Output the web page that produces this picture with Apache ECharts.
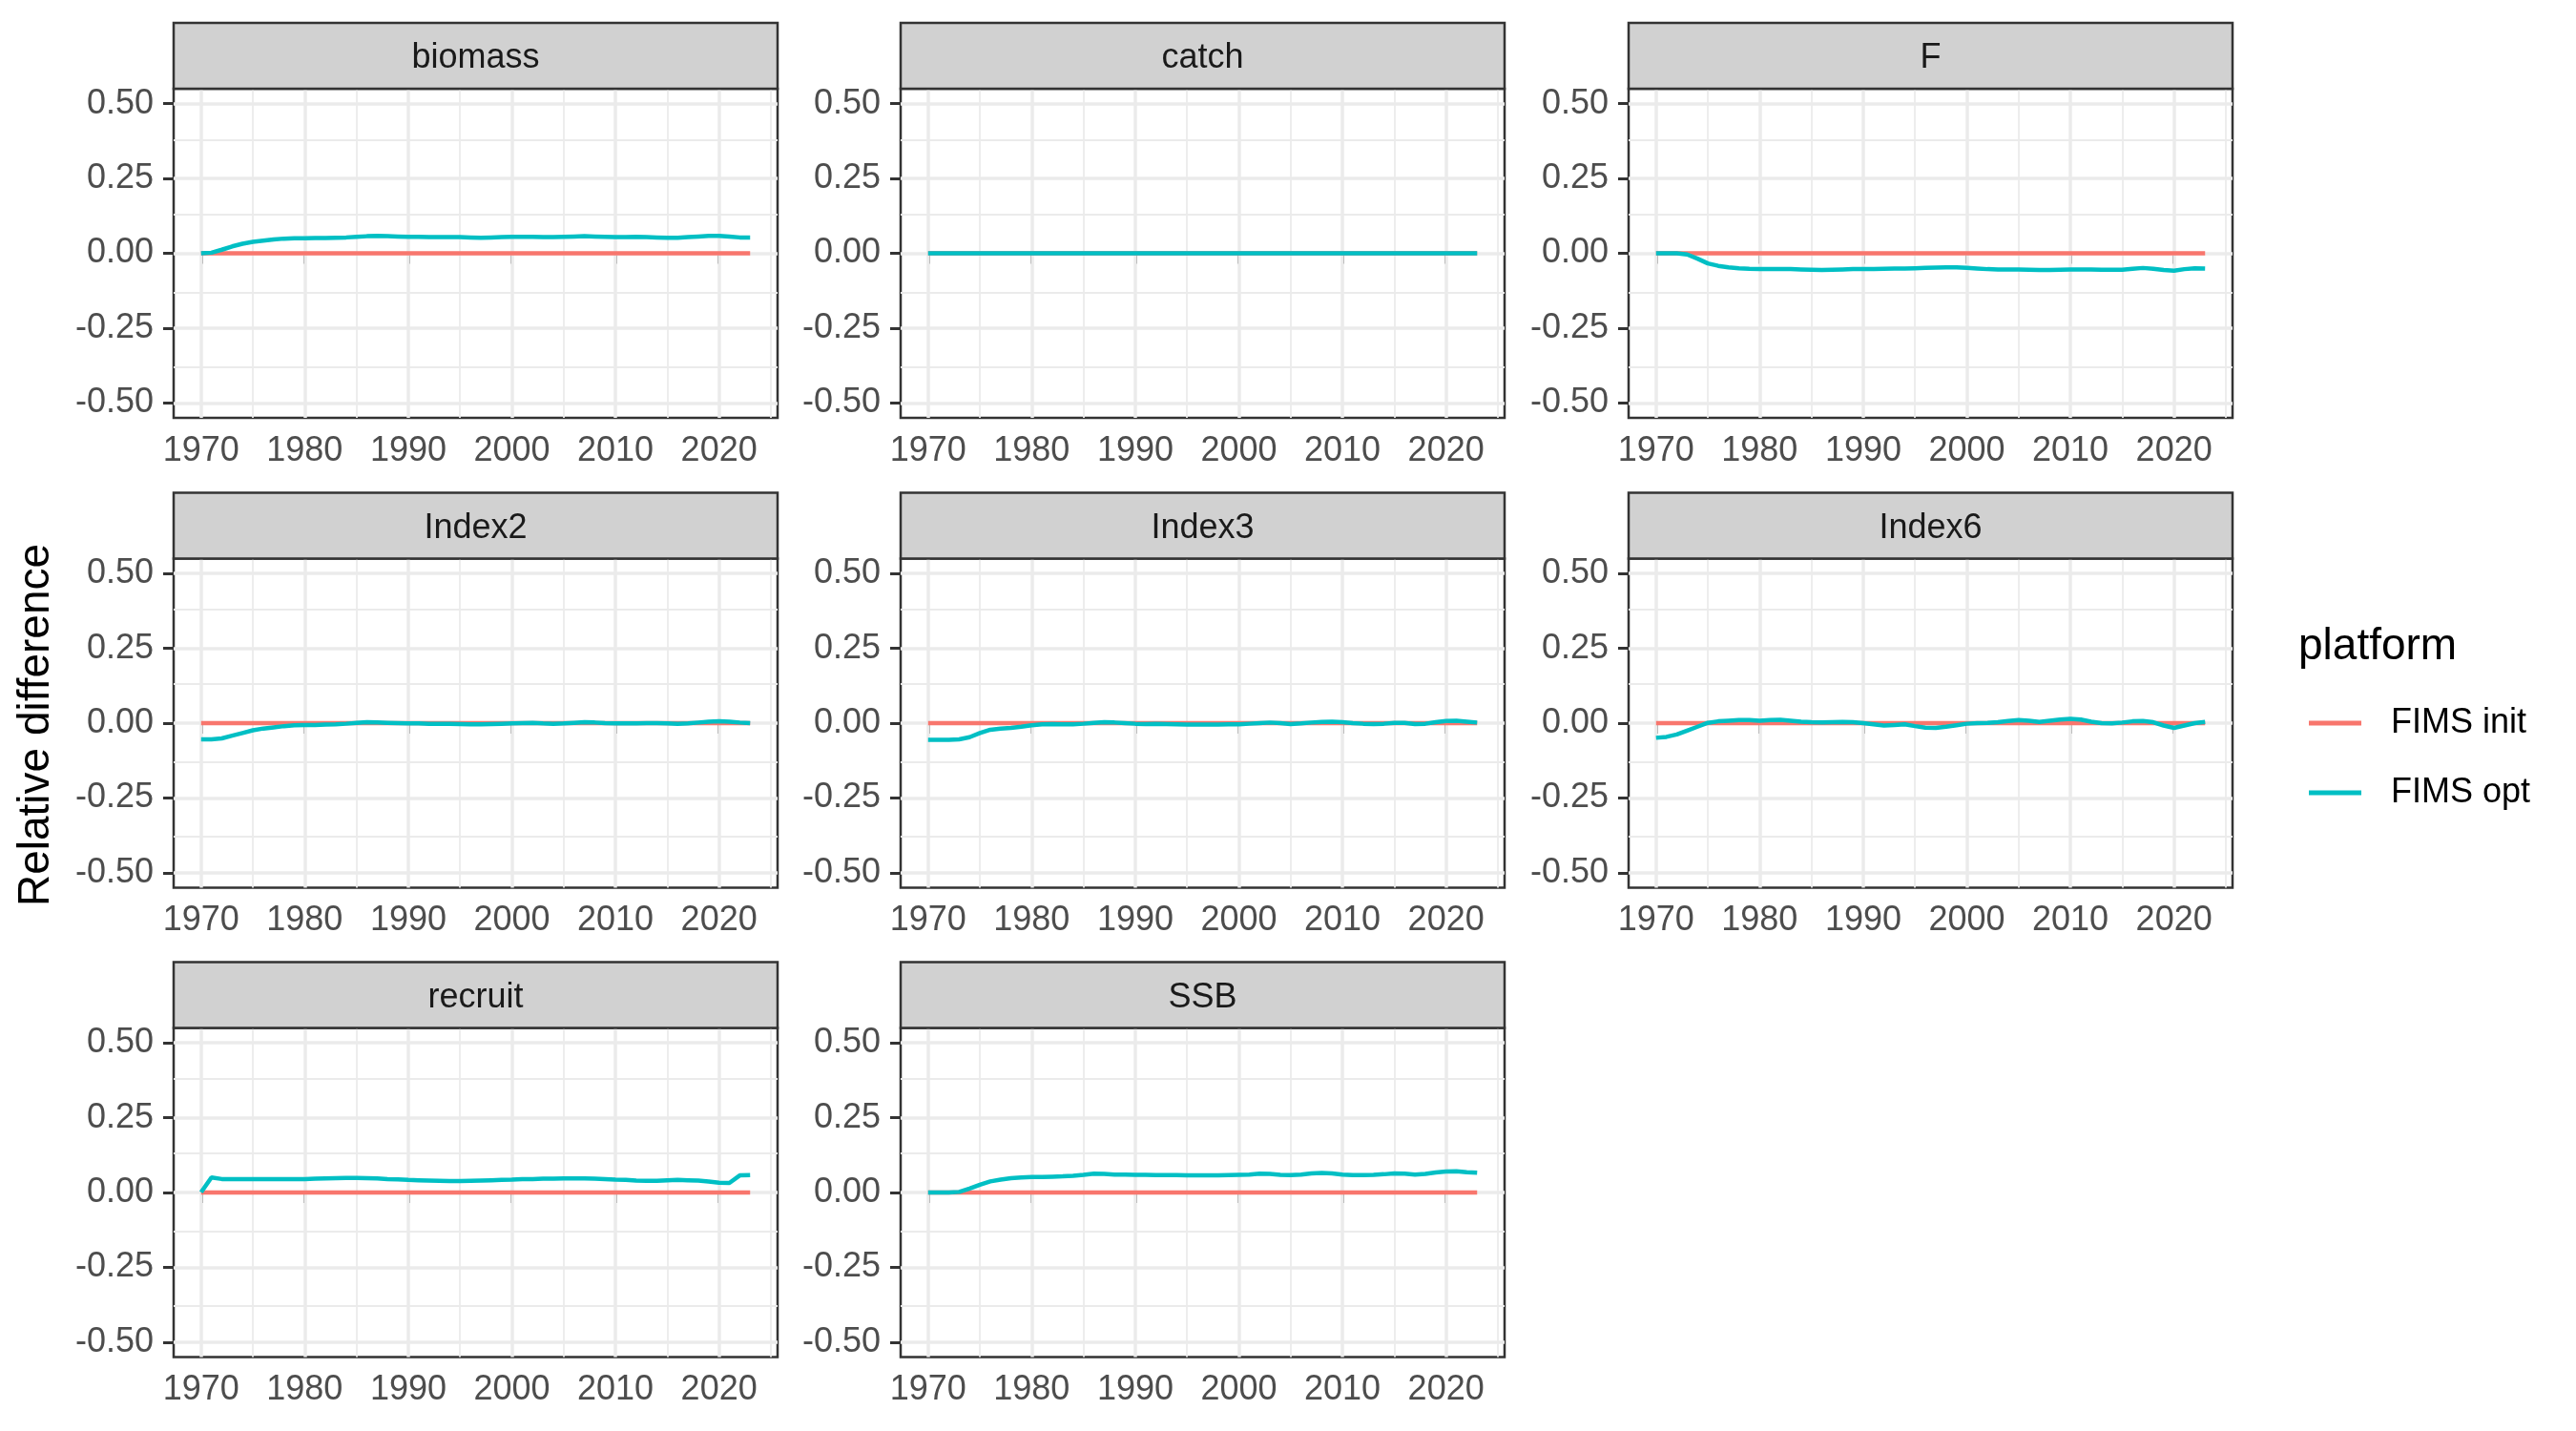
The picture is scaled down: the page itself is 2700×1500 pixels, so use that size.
<!DOCTYPE html>
<html>
<head>
<meta charset="utf-8">
<script src="https://cdn.jsdelivr.net/npm/echarts@6/dist/echarts.min.js"></script>
<style>
html,body{margin:0;padding:0;background:#fff;}
#chart{width:2700px;height:1500px;}
</style>
</head>
<body>
<div id="chart"></div>
<script>
// ---------------- data ----------------
const years = [1970,1971,1972,1973,1974,1975,1976,1977,1978,1979,
  1980,1981,1982,1983,1984,1985,1986,1987,1988,1989,
  1990,1991,1992,1993,1994,1995,1996,1997,1998,1999,
  2000,2001,2002,2003,2004,2005,2006,2007,2008,2009,
  2010,2011,2012,2013,2014,2015,2016,2017,2018,2019,
  2020,2021,2022,2023];

const panelNames = ['biomass','catch','F','Index2','Index3','Index6','recruit','SSB'];
const seriesNames = ['FIMS init','FIMS opt'];
const yTickValues = [-0.5,-0.25,0,0.25,0.5];
const yMinorValues = [-0.375,-0.125,0.125,0.375];
const xTickValues = [1970,1980,1990,2000,2010,2020];
const xMinorValues = [1975,1985,1995,2005,2015,2025];

// FIMS init: relative difference is zero in every panel
const fimsInit = [0,0,0,0,0,0,0,0,0,0, 0,0,0,0,0,0,0,0,0,0, 0,0,0,0,0,0,0,0,0,0,
  0,0,0,0,0,0,0,0,0,0, 0,0,0,0,0,0,0,0,0,0, 0,0,0,0];

const biomassOpt = [0,0.002,0.012,0.023,0.032,0.038,0.042,0.046,0.049,0.050,
  0.050,0.051,0.051,0.052,0.053,0.055,0.057,0.058,0.057,0.056,
  0.055,0.055,0.054,0.054,0.054,0.054,0.053,0.052,0.053,0.054,
  0.055,0.055,0.055,0.054,0.054,0.055,0.056,0.057,0.056,0.055,
  0.054,0.054,0.055,0.054,0.053,0.052,0.052,0.054,0.056,0.058,
  0.058,0.056,0.053,0.053];
const catchOpt = [0,0,0,0,0,0,0,0,0,0, 0,0,0,0,0,0,0,0,0,0, 0,0,0,0,0,0,0,0,0,0,
  0,0,0,0,0,0,0,0,0,0, 0,0,0,0,0,0,0,0,0,0, 0,0,0,0];
const fOpt = [0,0,0,-0.004,-0.018,-0.034,-0.042,-0.047,-0.050,-0.052,
  -0.053,-0.053,-0.053,-0.053,-0.054,-0.055,-0.056,-0.055,-0.054,-0.053,
  -0.053,-0.053,-0.052,-0.051,-0.051,-0.050,-0.049,-0.048,-0.047,-0.047,
  -0.049,-0.051,-0.053,-0.054,-0.054,-0.054,-0.055,-0.056,-0.056,-0.055,
  -0.054,-0.054,-0.054,-0.055,-0.055,-0.055,-0.052,-0.049,-0.052,-0.056,
  -0.058,-0.053,-0.050,-0.051];
const index2Opt = [-0.054,-0.054,-0.051,-0.042,-0.033,-0.024,-0.018,-0.014,-0.010,-0.007,
  -0.006,-0.006,-0.005,-0.004,-0.002,0.001,0.003,0.002,0.001,0.000,
  -0.001,-0.001,-0.002,-0.002,-0.002,-0.003,-0.004,-0.004,-0.003,-0.002,
  -0.001,0.000,0.001,-0.001,-0.002,-0.001,0.001,0.003,0.002,0.000,
  -0.001,-0.001,-0.001,0.000,0.000,-0.001,-0.002,-0.001,0.002,0.005,
  0.006,0.005,0.002,0.000];
const index3Opt = [-0.056,-0.056,-0.056,-0.054,-0.047,-0.033,-0.022,-0.018,-0.016,-0.012,
  -0.007,-0.004,-0.003,-0.004,-0.004,-0.002,0.001,0.003,0.002,0.000,
  -0.002,-0.003,-0.002,-0.003,-0.004,-0.005,-0.005,-0.005,-0.005,-0.004,
  -0.004,-0.002,0.000,0.002,0.000,-0.003,-0.001,0.002,0.004,0.005,
  0.003,0.000,-0.002,-0.003,-0.002,0.001,0.001,-0.003,-0.002,0.003,
  0.007,0.008,0.005,0.002];
const index6Opt = [-0.049,-0.046,-0.038,-0.025,-0.012,0.001,0.006,0.008,0.010,0.010,
  0.008,0.010,0.011,0.008,0.005,0.003,0.002,0.003,0.004,0.003,
  0.000,-0.004,-0.008,-0.006,-0.004,-0.010,-0.015,-0.016,-0.012,-0.007,
  -0.002,0.000,0.001,0.003,0.007,0.010,0.008,0.004,0.008,0.012,
  0.014,0.012,0.005,0.000,-0.001,0.002,0.006,0.007,0.003,-0.008,
  -0.016,-0.008,0.000,0.004];
const recruitOpt = [0.001,0.050,0.045,0.045,0.045,0.045,0.045,0.045,0.045,0.045,
  0.045,0.046,0.047,0.048,0.049,0.049,0.048,0.047,0.045,0.044,
  0.042,0.041,0.040,0.039,0.038,0.038,0.039,0.040,0.041,0.042,
  0.043,0.045,0.045,0.046,0.046,0.047,0.047,0.047,0.046,0.045,
  0.043,0.042,0.040,0.039,0.039,0.041,0.042,0.041,0.040,0.037,
  0.033,0.032,0.057,0.058];
const ssbOpt = [0,0,0,0.002,0.013,0.026,0.037,0.043,0.048,0.050,
  0.052,0.052,0.053,0.054,0.056,0.059,0.063,0.062,0.060,0.060,
  0.059,0.059,0.058,0.058,0.058,0.057,0.057,0.057,0.057,0.058,
  0.059,0.060,0.063,0.062,0.059,0.058,0.060,0.064,0.065,0.064,
  0.060,0.058,0.058,0.059,0.061,0.064,0.063,0.060,0.062,0.067,
  0.070,0.071,0.068,0.066];

const optByPanel = [biomassOpt, catchOpt, fOpt, index2Opt, index3Opt, index6Opt, recruitOpt, ssbOpt];

// ---------------- layout / style ----------------
const FONT = '"Liberation Sans", Arial, Helvetica, sans-serif';
const COLORS = ['#F8766D', '#00BFC4'];
const colLeft = [182, 944, 1707];
const rowTop = [93, 585.5, 1077.5];
const panelW = 633, panelH = 345, stripH = 69;

const grids = [], xAxes = [], yAxes = [], series = [], graphics = [];

function pairs(xs, ys) { return xs.map((x, i) => [x, ys[i]]); }

panelNames.forEach((name, i) => {
  const c = i % 3, r = Math.floor(i / 3);
  const left = colLeft[c], top = rowTop[r];
  grids.push({
    left: left, top: top, width: panelW, height: panelH,
    show: true, backgroundColor: '#ffffff', borderColor: '#333333', borderWidth: 2.5,
    containLabel: false
  });
  xAxes.push({
    type: 'value', gridIndex: i, min: 1967.35, max: 2025.65,
    axisLine: { show: false },
    axisTick: { show: true, customValues: xTickValues, length: 11, lineStyle: { color: '#333333', width: 3 } },
    axisLabel: { customValues: xTickValues, margin: 17, color: '#4D4D4D', fontSize: 36, fontFamily: FONT,
      formatter: v => String(v) },
    splitLine: { show: false }
  });
  yAxes.push({
    type: 'value', gridIndex: i, min: -0.55, max: 0.55,
    axisLine: { show: false },
    axisTick: { show: true, customValues: yTickValues, length: 11, lineStyle: { color: '#333333', width: 3 } },
    axisLabel: { customValues: yTickValues, margin: 21, color: '#4D4D4D', fontSize: 36, fontFamily: FONT,
      formatter: v => Number(v).toFixed(2) },
    splitLine: { show: false }
  });

  const gridLines = [];
  yTickValues.forEach(v => gridLines.push({ yAxis: v, lineStyle: { width: 3.5, color: '#EBEBEB', type: 'solid' } }));
  yMinorValues.forEach(v => gridLines.push({ yAxis: v, lineStyle: { width: 1.8, color: '#EBEBEB', type: 'solid' } }));
  xTickValues.forEach(v => gridLines.push({ xAxis: v, lineStyle: { width: 3.5, color: '#EBEBEB', type: 'solid' } }));
  xMinorValues.forEach(v => gridLines.push({ xAxis: v, lineStyle: { width: 1.8, color: '#EBEBEB', type: 'solid' } }));

  series.push({
    name: seriesNames[0], type: 'line', xAxisIndex: i, yAxisIndex: i,
    data: pairs(years, fimsInit), showSymbol: false, symbol: 'none', z: 3,
    lineStyle: { color: COLORS[0], width: 4.5 }, itemStyle: { color: COLORS[0] },
    markLine: { silent: true, symbol: ['none', 'none'], label: { show: false }, z: 1, animation: false,
      emphasis: { disabled: true }, data: gridLines }
  });
  series.push({
    name: seriesNames[1], type: 'line', xAxisIndex: i, yAxisIndex: i,
    data: pairs(years, optByPanel[i]), showSymbol: false, symbol: 'none', z: 4,
    lineStyle: { color: COLORS[1], width: 4.5 }, itemStyle: { color: COLORS[1] }
  });

  // facet strip
  graphics.push({
    type: 'rect', shape: { x: left, y: top - stripH, width: panelW, height: stripH },
    style: { fill: '#D1D1D1', stroke: '#333333', lineWidth: 2.5 }, z: 10, silent: true
  });
  graphics.push({
    type: 'text', x: left + panelW / 2, y: top - stripH / 2 + 3,
    style: { text: name, fill: '#1A1A1A', font: '36px ' + FONT, textAlign: 'center', textVerticalAlign: 'middle' },
    z: 11, silent: true
  });
});

// y-axis title
graphics.push({
  type: 'text', x: 38, y: 760, rotation: Math.PI / 2,
  style: { text: 'Relative difference', fill: '#000000', font: '46px ' + FONT, textAlign: 'center', textVerticalAlign: 'middle' },
  silent: true
});
// legend title
graphics.push({
  type: 'text', x: 2409, y: 678,
  style: { text: 'platform', fill: '#000000', font: '46px ' + FONT, textAlign: 'left', textVerticalAlign: 'middle' },
  silent: true
});

const chart = echarts.init(document.getElementById('chart'), null, { renderer: 'canvas' });
chart.setOption({
  animation: false,
  backgroundColor: '#ffffff',
  grid: grids,
  xAxis: xAxes,
  yAxis: yAxes,
  series: series,
  legend: {
    data: seriesNames, orient: 'vertical', left: 2420, top: 740, padding: 0,
    icon: 'rect', itemWidth: 55, itemHeight: 5, itemGap: 37,
    textStyle: { fontSize: 36, fontFamily: FONT, color: '#000000', lineHeight: 36, padding: [0, 0, 0, 26] }
  },
  graphic: graphics
});
</script>
</body>
</html>
